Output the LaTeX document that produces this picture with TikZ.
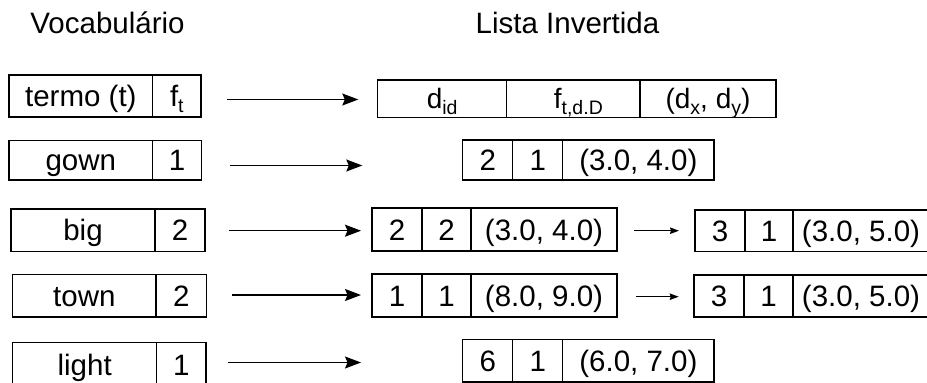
\documentclass[tikz,border=0pt]{standalone}
\usepackage{fontspec}
\setmainfont{Liberation Sans}
\usetikzlibrary{arrows.meta}
\newcommand{\sbs}[1]{\raisebox{-5.5pt}{\fontsize{19.5}{20}\selectfont #1}}
\begin{document}
\begin{tikzpicture}[x=1pt,y=-1pt,
  cell/.style={draw, line width=1.2pt, inner sep=0pt, outer sep=0pt, anchor=north west,
    font=\fontsize{29.5}{30}\selectfont, text height=21pt, text depth=0pt},
  hcell/.style={cell, font=\fontsize{28}{29}\selectfont, text height=19.5pt},
  ttl/.style={font=\fontsize{29.5}{30}\selectfont, anchor=base, inner sep=0pt},
  bigarrow/.style={-{Stealth[length=16pt,width=12pt,inset=2.5pt]}, line width=1.1pt},
  smallarrow/.style={-{Stealth[length=9pt,width=6.5pt,inset=1pt]}, line width=1.1pt}]
\useasboundingbox (0,0) rectangle (927,383);
\clip (0,0) rectangle (927,383);
% titles
\node[ttl] (tv) at (107.5,33) {Vocabulário};
\node[ttl] (tl) at (567.5,33) {Lista Invertida};
% vocabulary
\node[cell, minimum width=143.7, minimum height=42] (v0a) at (9,75) {termo (t)};
\node[cell, minimum width=48.3, minimum height=42] (v0b) at (152.7,75) {f\sbs{t}};
\node[cell, minimum width=143.7, minimum height=39.3] (v1a) at (9,140.7) {gown};
\node[cell, minimum width=49, minimum height=39.3] (v1b) at (152.7,140.7) {1};
\node[cell, minimum width=144, minimum height=42.7] (v2a) at (11,209) {big};
\node[cell, minimum width=50, minimum height=42.7] (v2b) at (155,209) {2};
\node[cell, minimum width=143.3, minimum height=42.7] (v3a) at (12.7,274.3) {town};
\node[cell, minimum width=50.7, minimum height=42.7] (v3b) at (156,274.3) {2};
\node[cell, minimum width=144, minimum height=44] (v4a) at (12.7,342.5) {light};
\node[cell, minimum width=49.3, minimum height=44] (v4b) at (156.7,342.5) {1};
% header of inverted list
\node[hcell, minimum width=129, minimum height=37.7] (h1) at (377.7,80) {d\sbs{id}};
\node[hcell, minimum width=133.3, minimum height=37.7] (h2) at (506.7,80) {\hspace{10pt}f\sbs{t,d.D}};
\node[hcell, minimum width=136, minimum height=37.7] (h3) at (640,80) {(d\sbs{x}, d\sbs{y})};
% gown list
\node[cell, minimum width=50, minimum height=40] (g1) at (462.7,140) {2\hspace{8pt}};
\node[cell, minimum width=50, minimum height=40] (g2) at (512.7,140) {1\hspace{8pt}};
\node[cell, minimum width=151.3, minimum height=40] (g3) at (562.7,140) {(3.0, 4.0)\hspace{8pt}};
% big lists
\node[cell, minimum width=50, minimum height=43] (b1) at (372,208) {2};
\node[cell, minimum width=49, minimum height=43] (b2) at (422,208) {2};
\node[cell, minimum width=146, minimum height=43] (b3) at (471,208) {(3.0, 4.0)};
\node[cell, minimum width=50, minimum height=41.7] (c1) at (695,210) {3};
\node[cell, minimum width=48, minimum height=41.7] (c2) at (745,210) {1};
\node[cell, minimum width=136, minimum height=41.7] (c3) at (793,210) {(3.0, 5.0)\hspace{4pt}};
% town lists
\node[cell, minimum width=50, minimum height=43] (t1) at (372,274) {1};
\node[cell, minimum width=49, minimum height=43] (t2) at (422,274) {1};
\node[cell, minimum width=146, minimum height=43] (t3) at (471,274) {(8.0, 9.0)};
\node[cell, minimum width=50, minimum height=42] (u1) at (694,275) {3};
\node[cell, minimum width=49, minimum height=42] (u2) at (744,275) {1};
\node[cell, minimum width=136, minimum height=42] (u3) at (793,275) {(3.0, 5.0)\hspace{4pt}};
% light list
\node[cell, minimum width=50, minimum height=42.7] (l1) at (462.7,339.3) {6\hspace{8pt}};
\node[cell, minimum width=50, minimum height=42.7] (l2) at (512.7,339.3) {1\hspace{8pt}};
\node[cell, minimum width=151.3, minimum height=42.7] (l3) at (562.7,339.3) {(6.0, 7.0)\hspace{8pt}};
% arrow end points
\coordinate (a1s) at (226.5,99.5);  \coordinate (a1e) at (358.3,99.5);
\coordinate (a2s) at (229.5,165.5); \coordinate (a2e) at (362.3,165.5);
\coordinate (a3s) at (229,230.7);   \coordinate (a3e) at (361,230.7);
\coordinate (a4s) at (232,295);     \coordinate (a4e) at (361,295);
\coordinate (a5s) at (227.7,362.5); \coordinate (a5e) at (361,362.5);
\coordinate (s1s) at (634,230.7);   \coordinate (s1e) at (679,230.7);
\coordinate (s2s) at (635.7,296.7); \coordinate (s2e) at (678.7,296.7);
\draw[bigarrow] (a1s) -- (a1e);
\draw[bigarrow] (a2s) -- (a2e);
\draw[bigarrow] (a3s) -- (a3e);
\draw[bigarrow] (a4s) -- (a4e);
\draw[bigarrow] (a5s) -- (a5e);
\draw[smallarrow] (s1s) -- (s1e);
\draw[smallarrow] (s2s) -- (s2e);
\end{tikzpicture}
\end{document}
